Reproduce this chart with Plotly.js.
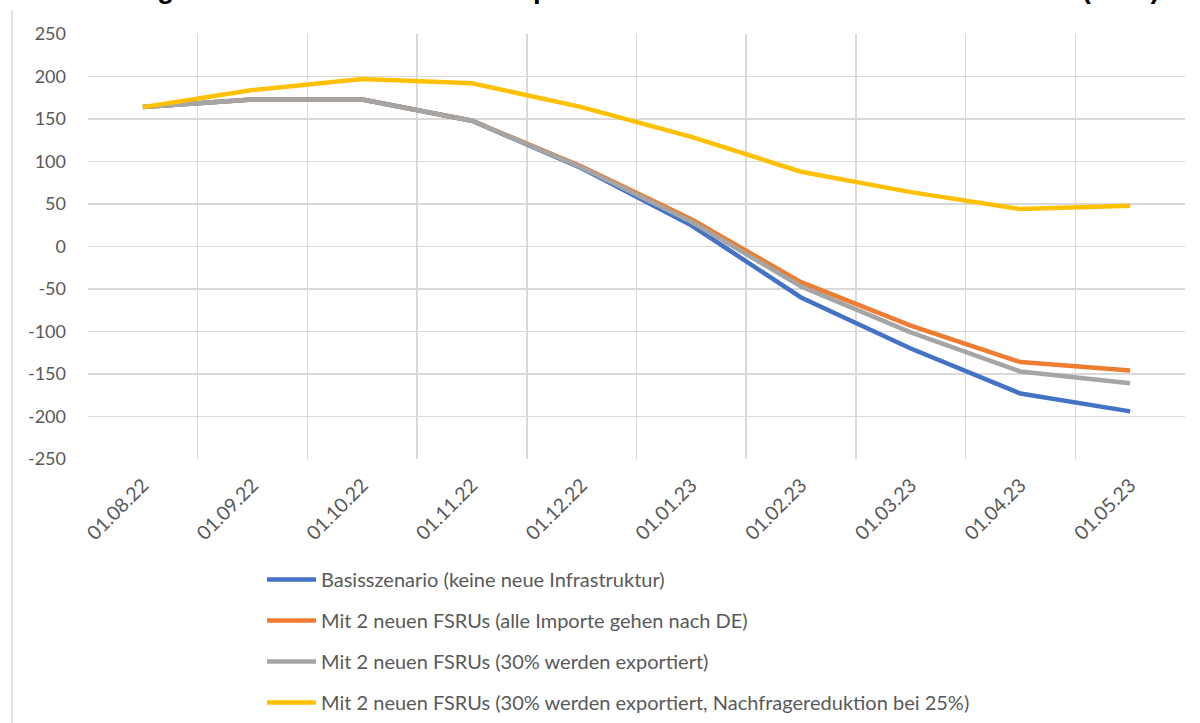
<!DOCTYPE html>
<html>
<head>
<meta charset="utf-8">
<script src="https://cdn.plot.ly/plotly-3.0.1.min.js"></script>
<style>html,body{margin:0;padding:0;background:#fff;}#chart{width:1200px;height:723px;}</style>
</head>
<body>
<div id="chart"></div>
<script>
const categories = ["01.08.22","01.09.22","01.10.22","01.11.22","01.12.22","01.01.23","01.02.23","01.03.23","01.04.23","01.05.23"];
const basis = [164, 173, 173, 148, 92, 25, -60, -120, -173, -194];
const fsruAll = [164, 173, 173, 148, 94, 32, -42, -93, -136, -146];
const fsruExport = [164, 173, 173, 148, 93, 29, -47, -101, -147, -161];
const fsruDemand = [164, 184, 197, 192, 164, 129, 88, 64, 44, 48];
const seriesNames = [
  "Basisszenario (keine neue Infrastruktur)",
  "Mit 2 neuen FSRUs (alle Importe gehen nach DE)",
  "Mit 2 neuen FSRUs (30% werden exportiert)",
  "Mit 2 neuen FSRUs (30% werden exportiert, Nachfragereduktion bei 25%)"
];
const seriesColors = ["#4472C4", "#ED7D31", "#A5A5A5", "#FFC000"];
const yTickVals = [250, 200, 150, 100, 50, 0, -50, -100, -150, -200, -250];
const yTickText = ["250", "200", "150", "100", "50", "0", "-50", "-100", "-150", "-200", "-250"];
const titleText = "Abbildung 4: Monatlicher deutscher Speicherstand in verschiedenen Szenarien (TWh)";

const seriesValues = [basis, fsruAll, fsruExport, fsruDemand];
const FONT = "Lato, 'Open Sans', sans-serif";
const traces = seriesValues.map((vals, i) => ({
  type: "scatter",
  mode: "lines",
  x: categories,
  y: vals,
  name: seriesNames[i],
  legendgroup: "g" + i,
  line: {color: seriesColors[i], width: 4.5},
  hoverinfo: "skip"
}));

const W = 1200, H = 723;
const L = 88, R = 15, T = 34, B = 264;
const pw = W - L - R, ph = H - T - B;
const px2x = p => (p - L) / pw;
const py2y = p => (H - B - p) / ph;

const layout = {
  width: W, height: H,
  margin: {l: L, r: R, t: T, b: B, pad: 0, autoexpand: false},
  paper_bgcolor: "#ffffff",
  plot_bgcolor: "#ffffff",
  font: {family: FONT, size: 18, color: "#595959"},
  showlegend: true,
  legend: {
    x: px2x(262), xanchor: "left",
    y: py2y(560), yanchor: "top",
    orientation: "v",
    traceorder: "grouped",
    tracegroupgap: 12,
    itemwidth: 49,
    font: {family: FONT, size: 20, color: "#595959"},
    bgcolor: "rgba(0,0,0,0)"
  },
  xaxis: {
    type: "category",
    range: [-0.5, categories.length - 0.5],
    tickson: "boundaries",
    showgrid: true,
    gridcolor: "#d9d9d9",
    gridwidth: 1.5,
    ticks: "",
    tickangle: -45,
    ticklabelstandoff: 10,
    tickfont: {family: FONT, size: 19.5, color: "#595959"},
    showline: false,
    zeroline: false,
    fixedrange: true
  },
  yaxis: {
    range: [-250, 250],
    tickmode: "array",
    tickvals: yTickVals,
    ticktext: yTickText,
    showgrid: true,
    gridcolor: "#d9d9d9",
    gridwidth: 1.5,
    zeroline: false,
    showline: false,
    ticks: "",
    ticklabelstandoff: 21,
    tickfont: {family: FONT, size: 18, color: "#595959"},
    fixedrange: true
  },
  annotations: [{
    text: "<b>" + titleText + "</b>",
    xref: "paper", yref: "paper",
    x: px2x(599), y: py2y(-12),
    xanchor: "center", yanchor: "middle",
    showarrow: false,
    font: {family: "'Liberation Sans', Arial, sans-serif", size: 27.5, color: "#000000"}
  }],
  shapes: [{
    type: "line", xref: "paper", yref: "paper",
    x0: px2x(12), x1: px2x(12), y0: py2y(10), y1: py2y(730),
    line: {color: "#d9d9d9", width: 1.5}
  }]
};

Plotly.newPlot("chart", traces, layout, {staticPlot: true, displayModeBar: false});
</script>
</body>
</html>
